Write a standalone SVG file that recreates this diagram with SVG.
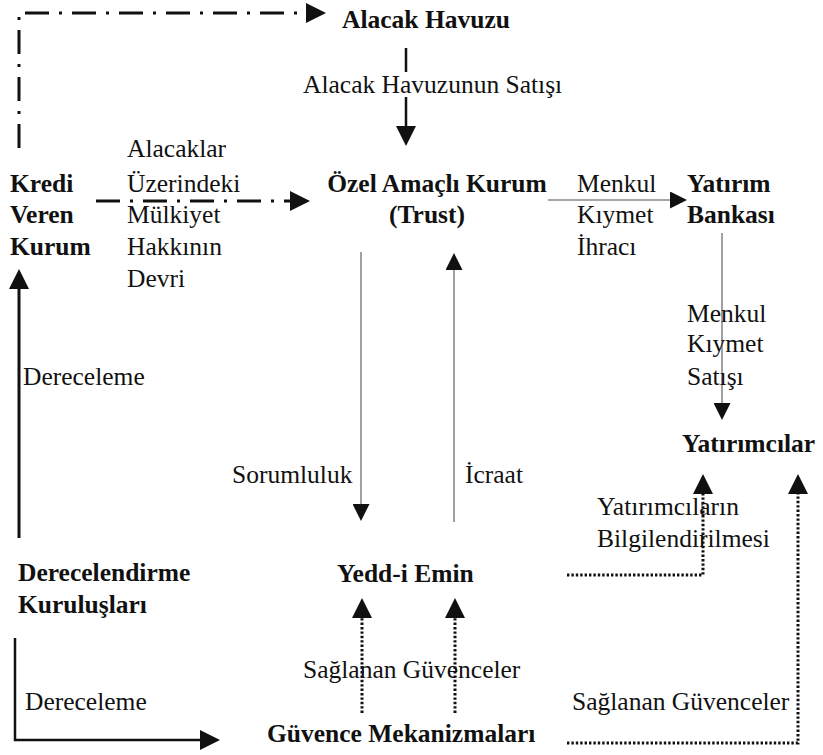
<svg xmlns="http://www.w3.org/2000/svg" width="823" height="755" viewBox="0 0 823 755">
<style>
text { font-family: "Liberation Serif", "Times New Roman", serif; font-size: 25.5px; fill: #111; }
.node text { font-weight: bold; }
.solid { fill: none; stroke: #111; stroke-width: 2.5; }
.thin { fill: none; stroke: #8a8a8a; stroke-width: 1.6; }
.dashdot { fill: none; stroke: #111; stroke-width: 3; stroke-dasharray: 24 10 3 10; }
.dotted { fill: none; stroke: #111; stroke-width: 3; stroke-dasharray: 2.4 2; }
</style>
<defs>
<marker id="ah" viewBox="0 0 10 10" refX="0" refY="5" markerWidth="23" markerHeight="20" markerUnits="userSpaceOnUse" orient="auto">
<path d="M0,0 L10,5 L0,10 z" fill="#111"/>
</marker>
<marker id="ahs" viewBox="0 0 10 10" refX="0" refY="5" markerWidth="18" markerHeight="17" markerUnits="userSpaceOnUse" orient="auto">
<path d="M0,0 L10,5 L0,10 z" fill="#111"/>
</marker>
</defs>
<rect width="823" height="755" fill="#fff"/>
<g id="connectors">
<path class="dashdot" d="M19,148 V13 H306" marker-end="url(#ah)"/>
<path class="dashdot" d="M96,201 H290" marker-end="url(#ah)"/>
<path class="solid" d="M406,48 V72 M406,97 V126" marker-end="url(#ah)"/>
<path class="thin" d="M548,200 H670" marker-end="url(#ahs)"/>
<path class="thin" d="M722,233 V403" marker-end="url(#ahs)"/>
<path class="thin" d="M361,252 V504" marker-end="url(#ahs)"/>
<path class="thin" d="M454,522 V270" marker-end="url(#ahs)"/>
<path class="solid" style="stroke-width:3" d="M19,538 V289" marker-end="url(#ah)"/>
<path class="solid" d="M15,638 V740 H200" marker-end="url(#ah)"/>
<path class="dotted" d="M567,575 H703 V494" marker-end="url(#ah)"/>
<path class="dotted" d="M567,743 H798 V494" marker-end="url(#ah)"/>
<path class="dotted" d="M362,713 V618" marker-end="url(#ah)"/>
<path class="dotted" d="M455,713 V618" marker-end="url(#ah)"/>
<text x="303" y="93">Alacak Havuzunun Satışı</text>
<text x="127" y="157">Alacaklar<tspan x="127" y="192">Üzerindeki</tspan><tspan x="127" y="223">Mülkiyet</tspan><tspan x="127" y="255">Hakkının</tspan><tspan x="127" y="287">Devri</tspan></text>
<text x="577" y="192">Menkul<tspan x="577" y="223">Kıymet</tspan><tspan x="577" y="255">İhracı</tspan></text>
<text x="687" y="322">Menkul<tspan x="687" y="352">Kıymet</tspan><tspan x="687" y="385">Satışı</tspan></text>
<text x="23" y="385">Dereceleme</text>
<text x="232" y="483">Sorumluluk</text>
<text x="465" y="483">İcraat</text>
<text x="597" y="515">Yatırımcıların<tspan x="597" y="547">Bilgilendirilmesi</tspan></text>
<text x="303" y="678">Sağlanan Güvenceler</text>
<text x="572" y="710">Sağlanan Güvenceler</text>
<text x="25" y="710">Dereceleme</text>
</g>
<g id="alacak-havuzu" class="node"><text x="342" y="28">Alacak Havuzu</text></g>
<g id="kredi-veren-kurum" class="node"><text x="10" y="192">Kredi<tspan x="10" y="223">Veren</tspan><tspan x="10" y="255">Kurum</tspan></text></g>
<g id="ozel-amacli-kurum" class="node"><text x="437" y="192" text-anchor="middle">Özel Amaçlı Kurum<tspan x="427" y="223">(Trust)</tspan></text></g>
<g id="yatirim-bankasi" class="node"><text x="687" y="192">Yatırım<tspan x="687" y="223">Bankası</tspan></text></g>
<g id="yatirimcilar" class="node"><text x="682" y="452">Yatırımcılar</text></g>
<g id="derecelendirme" class="node"><text x="18" y="581">Derecelendirme<tspan x="18" y="613">Kuruluşları</tspan></text></g>
<g id="yedd-i-emin" class="node"><text x="337" y="582">Yedd-i Emin</text></g>
<g id="guvence" class="node"><text x="267" y="742">Güvence Mekanizmaları</text></g>
</svg>
